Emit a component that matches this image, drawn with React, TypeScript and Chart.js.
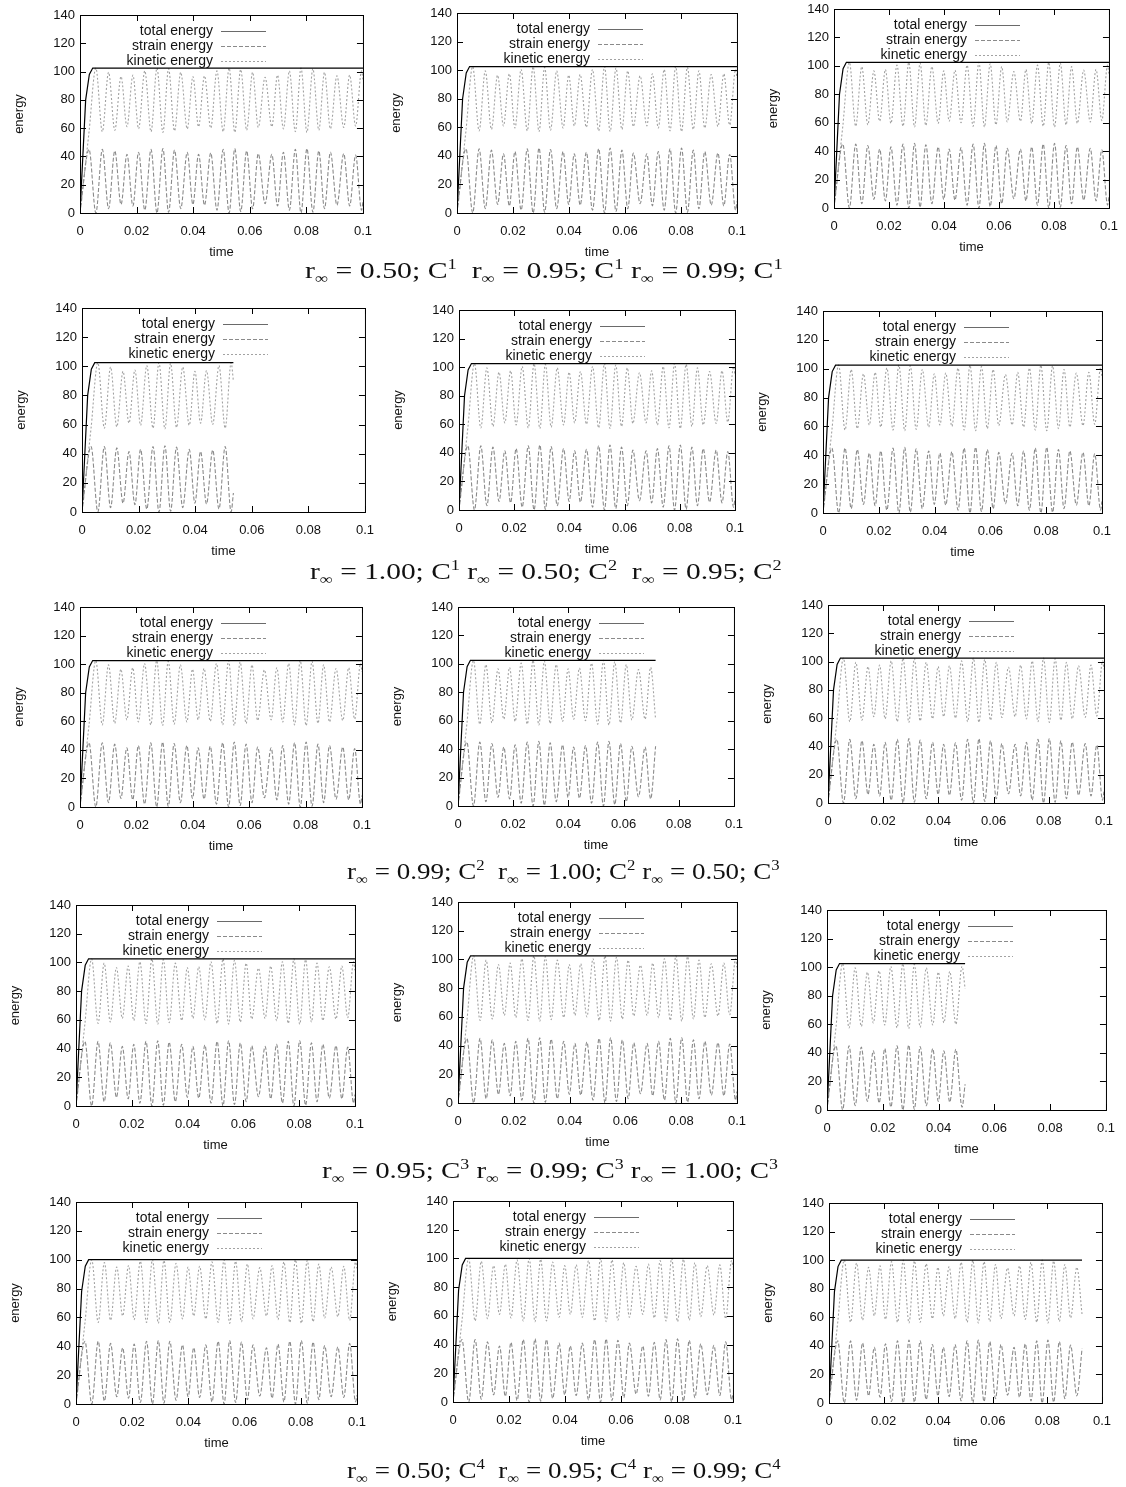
import React, { useEffect, useLayoutEffect, useRef } from "react";
import { Chart, registerables } from "chart.js";

Chart.register(...registerables);

// ---------------- data ----------------
const seriesLabels = ["total energy", "strain energy", "kinetic energy"];
const yTicks = [0, 20, 40, 60, 80, 100, 120, 140];
const xTicks = [0, 0.02, 0.04, 0.06, 0.08, 0.1];
const xTickLabels = ["0", "0.02", "0.04", "0.06", "0.08", "0.1"];

// times of the successive extremes of the oscillation
const extremeTimes = [
  0,
  0.0032, 0.0056, 0.0079, 0.0101, 0.0123, 0.0145, 0.0166, 0.0187, 0.0207, 0.0229,
  0.0251, 0.0272, 0.0293, 0.0313, 0.0334, 0.0356, 0.0379, 0.0399, 0.0419, 0.044,
  0.0462, 0.0484, 0.0506, 0.0527, 0.0547, 0.0568, 0.0589, 0.061, 0.063, 0.0654,
  0.0678, 0.0698, 0.0719, 0.074, 0.0761, 0.0781, 0.0802, 0.0823, 0.0844, 0.0864,
  0.0885, 0.0908, 0.0932, 0.0953, 0.0974, 0.0995,
  0.1,
];

// C1 - C3 runs
const strainC1 = [
  0,
  45, 0, 45, 3, 44, 6, 41.5, 5, 43, 2,
  45, 0, 45.5, 0.5, 44.5, 3, 43, 6, 41.5, 5.5,
  42.5, 2, 45, 0, 45.5, 1, 44, 3, 42, 6.5,
  41.5, 5, 43, 2, 45, 0, 45.5, 0.5, 44, 3,
  43, 5.5, 42, 5, 41, 2,
  8,
];
const kineticC1 = [
  0,
  57.5, 102.5, 57.5, 99.5, 58.5, 96.5, 61, 97.5, 59.5, 100.5,
  57.5, 102.5, 57, 102, 58, 99.5, 59.5, 96.5, 61, 97,
  60, 100.5, 57.5, 102.5, 57, 101.5, 58.5, 99.5, 60.5, 96,
  61, 97.5, 59.5, 100.5, 57.5, 102.5, 57, 102, 58.5, 99.5,
  59.5, 97, 60.5, 97.5, 61.5, 100.5,
  94.5,
];

// C4 runs
const strainC4 = [
  0,
  43.5, 0, 43.5, 2, 42, 5, 39, 4, 41.5, 1,
  43.5, 0, 44, 0.5, 43.5, 2.5, 41, 5, 39, 4.5,
  41, 1.5, 43.5, 0, 44, 1, 43, 3, 41, 5.5,
  39, 4, 41.5, 1.5, 43.5, 0, 44, 0.5, 43, 3,
  40.5, 5, 39.5, 4.5, 42, 1.5,
  6,
];
const kineticC4 = [
  0,
  56.5, 100, 56.5, 98, 58, 95, 61, 96, 58.5, 99,
  56.5, 100, 56, 99.5, 56.5, 97.5, 59, 95, 61, 95.5,
  59, 98.5, 56.5, 100, 56, 99, 57, 97, 59, 94.5,
  61, 96, 58.5, 98.5, 56.5, 100, 56, 99.5, 57, 97,
  59.5, 95, 60.5, 95.5, 58, 98.5,
  94,
];

const totalTimes = [0, 0.002, 0.0033, 0.0045];
const totalC1 = [0, 80, 98, 102.5];
const totalC4 = [0, 78, 95.5, 100];

// per panel: which run, when the run stops, and the values where it stops
const panelGroup = ["C1", "C1", "C1", "C1", "C2", "C2", "C2", "C2", "C3", "C3", "C3", "C3", "C4", "C4", "C4"];
const panelEnd = [0.1, 0.1, 0.1, 0.0535, 0.1, 0.1, 0.1, 0.0716, 0.1, 0.1, 0.1, 0.0495, 0.1, 0.1, 0.0927];
const panelEndStrain = [null, null, null, 13, null, null, null, 42, null, null, null, 18, null, null, 38];
const panelEndKinetic = [null, null, null, 90, null, null, null, 61, null, null, null, 85, null, null, 62];

// captions
const captionR = [
  ["0.50", "0.95", "0.99"],
  ["1.00", "0.50", "0.95"],
  ["0.99", "1.00", "0.50"],
  ["0.95", "0.99", "1.00"],
  ["0.50", "0.95", "0.99"],
];
const captionC = [
  ["1", "1", "1"],
  ["1", "2", "2"],
  ["2", "2", "3"],
  ["3", "3", "3"],
  ["4", "4", "4"],
];
const captionGaps = [
  ["  ", " "],
  [" ", "  "],
  ["  ", " "],
  [" ", " "],
  ["  ", " "],
];

// ---------------- layout ----------------
// plot-area boxes [left, top, right, bottom] on the page
const panelBoxes = [
  [80, 15, 363, 213],
  [457, 13, 737, 213],
  [834, 9, 1109, 208],
  [82, 308, 365, 512],
  [459, 310, 735, 510],
  [823, 311, 1102, 513],
  [80, 607, 362, 807],
  [458, 607, 734, 806],
  [828, 605, 1104, 803],
  [76, 905, 355, 1106],
  [458, 902, 737, 1103],
  [827, 910, 1106, 1110],
  [76, 1202, 357, 1404],
  [453, 1201, 733, 1402],
  [829, 1203, 1102, 1403],
];
// caption [left, width, centerY]
const captionBoxes = [
  [305, 478, 271],
  [310, 472, 572],
  [347, 433, 872],
  [322, 456, 1171],
  [347, 434, 1471],
];

const ML = 80; // space left of plot
const MT = 15; // space above plot
const MR = 20; // space right of plot
const MB = 50; // space below plot

const SANS = "'Liberation Sans', Arial, Helvetica, sans-serif";
const SERIF = "'Liberation Serif', 'Times New Roman', serif";

const lineStyles = [
  { color: "#000000", width: 1.2, dash: [] as number[], legendColor: "#6a6a6a" },
  { color: "#8a8a8a", width: 1.1, dash: [4, 2], legendColor: "#8a8a8a" },
  { color: "#a2a2a2", width: 1.1, dash: [2, 2], legendColor: "#a2a2a2" },
];

function buildSeries(idx: number) {
  const isC4 = panelGroup[idx] === "C4";
  const strain = isC4 ? strainC4 : strainC1;
  const kinetic = isC4 ? kineticC4 : kineticC1;
  const totalVals = isC4 ? totalC4 : totalC1;
  const end = panelEnd[idx];
  const s: { x: number; y: number }[] = [];
  const k: { x: number; y: number }[] = [];
  for (let i = 0; i < extremeTimes.length; i++) {
    const t = extremeTimes[i];
    if (t <= end + 1e-9 && (panelEndStrain[idx] === null || t < end)) {
      s.push({ x: t, y: strain[i] });
      k.push({ x: t, y: kinetic[i] });
    }
  }
  if (panelEndStrain[idx] !== null) {
    s.push({ x: end, y: panelEndStrain[idx] as number });
    k.push({ x: end, y: panelEndKinetic[idx] as number });
  }
  const tot = totalTimes.map((t, i) => ({ x: t, y: totalVals[i] }));
  tot.push({ x: end, y: totalVals[totalVals.length - 1] });
  return [tot, s, k];
}

const gnuplotPlugin = {
  id: "gnuplotFrame",
  afterDatasetsDraw(chart: any) {
    const { ctx, chartArea: a, scales } = chart;
    ctx.save();
    ctx.strokeStyle = "#000";
    ctx.lineWidth = 1;
    ctx.setLineDash([]);
    ctx.strokeRect(a.left + 0.5, a.top + 0.5, a.right - a.left, a.bottom - a.top);
    const tl = 6;
    ctx.beginPath();
    for (const v of yTicks) {
      const y = Math.round(scales.y.getPixelForValue(v)) + 0.5;
      ctx.moveTo(a.left, y);
      ctx.lineTo(a.left + tl, y);
      ctx.moveTo(a.right, y);
      ctx.lineTo(a.right - tl, y);
    }
    for (const v of xTicks) {
      const x = Math.round(scales.x.getPixelForValue(v)) + 0.5;
      ctx.moveTo(x, a.bottom);
      ctx.lineTo(x, a.bottom - tl);
      ctx.moveTo(x, a.top);
      ctx.lineTo(x, a.top + tl);
    }
    ctx.stroke();

    // key (legend) in gnuplot style
    ctx.font = `14px ${SANS}`;
    ctx.textAlign = "right";
    ctx.textBaseline = "middle";
    chart.data.datasets.forEach((ds: any, i: number) => {
      const y = a.top + 16 + i * 15;
      ctx.fillStyle = "#111";
      ctx.fillText(ds.label, a.left + 133, y);
      ctx.strokeStyle = lineStyles[i].legendColor;
      ctx.lineWidth = 1;
      ctx.setLineDash(lineStyles[i].dash);
      ctx.beginPath();
      ctx.moveTo(a.left + 141, Math.round(y) + 0.5);
      ctx.lineTo(a.left + 186, Math.round(y) + 0.5);
      ctx.stroke();
    });
    ctx.restore();
  },
};

function Panel({ idx }: { idx: number }) {
  const ref = useRef<HTMLCanvasElement>(null);
  const [l, t, r, b] = panelBoxes[idx];
  const W = r - l + ML + MR;
  const H = b - t + MT + MB;

  useEffect(() => {
    if (!ref.current) return;
    const series = buildSeries(idx);
    const chart = new Chart(ref.current, {
      type: "line",
      data: {
        datasets: series.map((data, i) => ({
          label: seriesLabels[i],
          data,
          borderColor: lineStyles[i].color,
          borderWidth: lineStyles[i].width,
          borderDash: lineStyles[i].dash,
          pointRadius: 0,
          fill: false,
          tension: 0,
          cubicInterpolationMode: i === 0 ? "default" : "monotone",
        })),
      },
      options: {
        responsive: false,
        animation: false,
        devicePixelRatio: 1,
        events: [],
        layout: { padding: { left: 0, top: MT, right: MR, bottom: 0 } },
        plugins: { legend: { display: false }, tooltip: { enabled: false } },
        scales: {
          x: {
            type: "linear",
            min: 0,
            max: 0.1,
            afterBuildTicks: (s: any) => {
              s.ticks = xTicks.map((v) => ({ value: v }));
            },
            afterFit: (s: any) => {
              s.height = MB;
            },
            ticks: {
              autoSkip: false,
              maxRotation: 0,
              padding: 11,
              color: "#111",
              font: { family: SANS, size: 13 },
              callback: (_v: any, i: number) => xTickLabels[i],
            },
            grid: { display: false, drawTicks: false },
            border: { display: false },
            title: {
              display: true,
              text: "time",
              color: "#111",
              font: { family: SANS, size: 13, lineHeight: 1.2 },
              padding: { top: 0, bottom: 3 },
            },
          },
          y: {
            type: "linear",
            min: 0,
            max: 140,
            afterBuildTicks: (s: any) => {
              s.ticks = yTicks.map((v) => ({ value: v }));
            },
            afterFit: (s: any) => {
              s.width = ML;
            },
            ticks: {
              padding: 5,
              color: "#111",
              font: { family: SANS, size: 13 },
            },
            grid: { display: false, drawTicks: false },
            border: { display: false },
            title: {
              display: true,
              text: "energy",
              color: "#111",
              font: { family: SANS, size: 13, lineHeight: 1.2 },
              padding: { top: 12, bottom: 0 },
            },
          },
        },
      } as any,
      plugins: [gnuplotPlugin],
    });
    return () => chart.destroy();
  }, [idx]);

  return (
    <canvas
      ref={ref}
      width={W}
      height={H}
      style={{ position: "absolute", left: l - ML, top: t - MT, width: W, height: H }}
    />
  );
}

function Caption({ row }: { row: number }) {
  const ref = useRef<HTMLSpanElement>(null);
  const [left, width, cy] = captionBoxes[row];
  useLayoutEffect(() => {
    const el = ref.current;
    if (!el) return;
    el.style.transform = "none";
    const w = el.offsetWidth;
    if (w > 0) el.style.transform = `scaleX(${width / w})`;
  }, [row, width]);
  const items: React.ReactNode[] = [];
  for (let i = 0; i < 3; i++) {
    items.push(
      <React.Fragment key={i}>
        r
        <span style={{ fontSize: "0.62em", position: "relative", top: "0.36em" }}>∞</span>
        {` = ${captionR[row][i]}; C`}
        <span style={{ fontSize: "0.62em", position: "relative", top: "-0.62em" }}>{captionC[row][i]}</span>
        {i < 2 ? captionGaps[row][i] : ""}
      </React.Fragment>
    );
  }
  return (
    <div
      style={{
        position: "absolute",
        left,
        top: cy - 14,
        height: 28,
        lineHeight: "28px",
        fontFamily: SERIF,
        fontSize: 23,
        color: "#111",
        whiteSpace: "pre",
      }}
    >
      <span ref={ref} style={{ display: "inline-block", transformOrigin: "0 0" }}>
        {items}
      </span>
    </div>
  );
}

export default function App() {
  return (
    <div
      style={{
        position: "absolute",
        left: 0,
        top: 0,
        width: 1126,
        height: 1487,
        background: "#fff",
        overflow: "hidden",
      }}
    >
      {panelBoxes.map((_, i) => (
        <Panel key={i} idx={i} />
      ))}
      {captionBoxes.map((_, i) => (
        <Caption key={i} row={i} />
      ))}
    </div>
  );
}
